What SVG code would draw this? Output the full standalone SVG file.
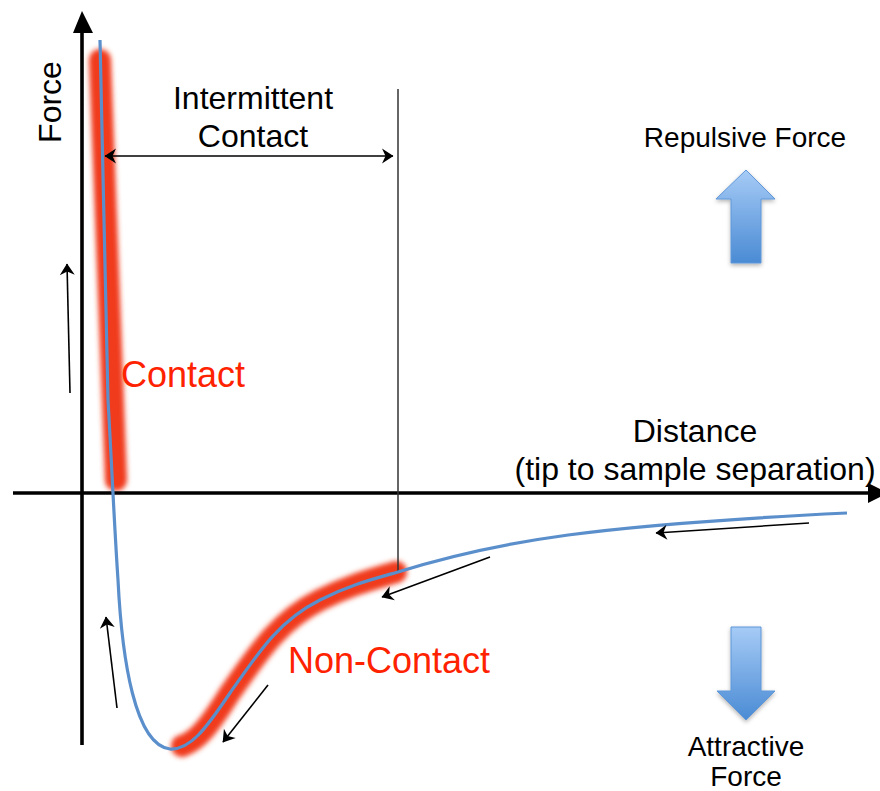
<svg xmlns="http://www.w3.org/2000/svg" width="880" height="791" viewBox="0 0 880 791">
<style>
.lbl{font-family:"Liberation Sans",Arial,sans-serif;fill:#000}
.big{font-size:32px}
.mid{font-size:28px}
.red{font-family:"Liberation Sans",Arial,sans-serif;font-size:36px;fill:#ff2200}
.axis{stroke:#000;stroke-width:3.6;fill:none}
.thin{stroke:#000;stroke-width:1.6;fill:none}
.glow{stroke:#f03a1e;stroke-width:22;fill:none;stroke-linecap:round;stroke-linejoin:round}
.curve{stroke:#5b8fcb;stroke-width:3.2;fill:none}
.barrow{fill:url(#bg);stroke:#5f97d8;stroke-width:1}
</style>
<defs>
<marker id="ah" viewBox="-14 -10 16 20" refX="0" refY="0" markerWidth="16" markerHeight="20" markerUnits="userSpaceOnUse" orient="auto-start-reverse">
<path d="M0.5,0 L-11,-7.5 L-7.5,0 L-11,7.5 Z" fill="#000"/>
</marker>
<filter id="blur" x="-50%" y="-20%" width="200%" height="140%">
<feGaussianBlur stdDeviation="2.6"/>
</filter>
<filter id="shadow" x="-30%" y="-20%" width="160%" height="150%">
<feDropShadow dx="0" dy="2" stdDeviation="2" flood-color="#000" flood-opacity="0.3"/>
</filter>
<linearGradient id="bg" x1="0" y1="0" x2="0" y2="1">
<stop offset="0" stop-color="#a6cbf6"/>
<stop offset="1" stop-color="#4a8bd4"/>
</linearGradient>
</defs>

<g id="glow" filter="url(#blur)">
<path class="glow" d="M100,60 L116,480"/>
<path class="glow" d="M182,746 C197,741 208,728 230,693 C260,650 280,620 320,600 C350,585 370,580 396,572"/>
</g>

<g id="axes">
<line class="axis" x1="82" y1="30" x2="82" y2="745"/>
<polygon points="73,33 82,11 93,33" fill="#000"/>
<line class="axis" x1="13" y1="493" x2="870" y2="493"/>
<polygon points="868,483 888,493 868,503" fill="#000"/>
</g>

<g id="boundary">
<line x1="398" y1="89" x2="398" y2="573" stroke="#333" stroke-width="1.5"/>
</g>

<g id="curve">
<path class="curve" d="M100,40 L108,400 C112,470 114,520 118,580 C122,660 135,745 170,749 C190,750 205,730 230,693 C260,650 280,620 320,600 C350,585 370,580 398,572 C500,540 600,525 847,513"/>
</g>

<g id="connectors">
<line class="thin" x1="105" y1="156" x2="393" y2="156" marker-start="url(#ah)" marker-end="url(#ah)"/>
<line class="thin" x1="70" y1="393" x2="67" y2="264" marker-end="url(#ah)"/>
<line class="thin" x1="117" y1="708" x2="106" y2="617" marker-end="url(#ah)"/>
<line class="thin" x1="268" y1="685" x2="223" y2="742" marker-end="url(#ah)"/>
<line class="thin" x1="490" y1="557" x2="382" y2="597" marker-end="url(#ah)"/>
<line class="thin" x1="809" y1="523" x2="656" y2="533" marker-end="url(#ah)"/>
</g>

<g id="force-label">
<text class="lbl big" text-anchor="middle" transform="translate(61,102) rotate(-90)">Force</text>
</g>

<g id="intermittent-label">
<text class="lbl big" x="253" y="109" text-anchor="middle">Intermittent</text>
<text class="lbl big" x="253" y="147" text-anchor="middle">Contact</text>
</g>

<g id="contact-label">
<text class="red" x="121" y="387">Contact</text>
</g>

<g id="noncontact-label">
<text class="red" x="288" y="673">Non-Contact</text>
</g>

<g id="distance-label">
<text class="lbl big" x="695" y="442" text-anchor="middle">Distance</text>
<text class="lbl big" x="695" y="480" text-anchor="middle">(tip to sample separation)</text>
</g>

<g id="repulsive">
<text class="lbl mid" x="745" y="147" text-anchor="middle">Repulsive Force</text>
<polygon class="barrow" filter="url(#shadow)" points="746,170 775,199 761,199 761,263 731,263 731,199 716,199"/>
</g>

<g id="attractive">
<polygon class="barrow" filter="url(#shadow)" points="731,627 761,627 761,691 775,691 746,720 717,691 731,691"/>
<text class="lbl mid" x="746" y="756" text-anchor="middle">Attractive</text>
<text class="lbl mid" x="746" y="786" text-anchor="middle">Force</text>
</g>
</svg>
